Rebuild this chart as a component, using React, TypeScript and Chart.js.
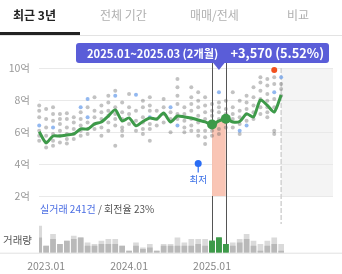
import React, { useEffect, useRef } from "react";
import { Chart, registerables } from "chart.js";
Chart.register(...registerables);

const FONT = '"Noto Sans CJK KR", "Noto Sans", sans-serif';

const tabs = ["최근 3년", "전체 기간", "매매/전세", "비교"];
const tabLeft = [13, 100, 190, 287];

const months = [
  "2022.12", "2023.01", "2023.02", "2023.03", "2023.04", "2023.05", "2023.06", "2023.07", "2023.08", "2023.09", "2023.10", "2023.11",
  "2023.12", "2024.01", "2024.02", "2024.03", "2024.04", "2024.05", "2024.06", "2024.07", "2024.08", "2024.09", "2024.10", "2024.11",
  "2024.12", "2025.01", "2025.02", "2025.03", "2025.04", "2025.05", "2025.06", "2025.07", "2025.08", "2025.09", "2025.10", "2025.11",
];

// average price (억)
const avgPrice = [
  6.02, 5.33, 5.75, 5.75, 5.81, 5.88, 6.19, 6.19, 6.5, 6.63, 7.0, 7.38,
  6.69, 6.88, 6.39, 6.66, 6.88, 6.81, 7.19, 6.63, 7.0, 6.94, 6.88, 6.75,
  6.63, 6.47, 6.69, 6.83, 6.63, 6.66, 7.13, 6.94, 8.0, 7.66, 7.25, 8.31,
];

// individual deals (억), per month
const grayDeals = [
  [7.65, 7.33, 6.92, 6.08, 5.77, 5.46],
  [7.44, 6.81, 6.29, 5.77, 5.35, 5.04],
  [7.54, 7.13, 6.71, 5.88, 5.46, 5.15],
  [7.13, 6.81, 6.5, 6.08, 5.77, 5.35],
  [7.17, 6.81, 6.29, 5.88, 5.56, 5.29],
  [6.92, 6.6, 6.19, 5.88, 5.56],
  [7.23, 6.81, 6.4, 6.08, 5.77],
  [7.54, 6.6, 6.19, 5.88],
  [8.17, 7.33, 6.92, 6.5, 6.19],
  [7.65, 7.23, 6.81, 6.29, 5.77],
  [8.27, 7.85, 7.33, 7.02, 6.6, 6.08],
  [8.58, 7.54, 7.13, 6.81, 6.4, 5.15],
  [7.85, 7.23, 6.81, 6.29, 6.08, 5.77],
  [8.38, 7.54, 7.13, 6.5],
  [7.33, 6.71, 6.08],
  [7.96, 7.54, 6.92, 6.6, 6.19, 5.88],
  [8.17, 7.65, 7.33, 6.5, 6.19, 5.46],
  [7.33, 6.81, 6.4],
  [8.06, 7.54, 7.13, 6.6],
  [7.23, 6.81, 5.98],
  [9.31, 8.79, 8.27, 7.75, 7.13, 6.81],
  [7.54, 7.13, 6.71, 6.29, 5.98],
  [8.79, 8.17, 7.75, 7.33, 6.81, 6.4, 6.08],
  [8.48, 7.96, 7.54, 7.02, 6.6, 6.08, 5.77],
  [8.17, 7.65, 7.23, 6.81, 6.08, 5.67, 5.25],
  [7.75, 7.33, 7.02, 6.08, 5.77],
  [7.85, 7.54, 7.23, 6.81, 6.19, 5.88],
  [7.96, 7.44, 7.13, 6.6, 6.29],
  [8.48, 7.54, 7.13, 6.81, 6.29],
  [7.96, 7.33, 6.92, 6.5, 5.88],
  [8.27, 7.85, 7.44, 7.13, 6.71],
  [8.79, 8.17, 7.65, 7.23, 6.81],
  [9.42, 9.1, 8.58, 8.06, 7.54, 7.13],
  [9.31, 8.9, 8.38, 7.96, 7.54, 7.23, 6.92],
  [9.42, 9.0, 8.06, 7.54, 6.08, 5.88],
  [9.0, 8.69, 8.27],
];
const blueMonth = [0, 2, 6, 7, 7, 11, 14, 16, 19, 20, 26, 29, 30, 34, 35];
const blueValue = [6.4, 6.29, 7.54, 8.06, 6.92, 8.27, 8.33, 6.92, 7.54, 6.4, 8.48, 6.08, 6.4, 8.48, 9.42];

const highMonth = 34;
const highValue = 9.88;
const lowMonth = 23;
const lowValue = 4.04;
const lowLabel = "최저";

// monthly deal counts
const volTotal = [16, 4, 11, 5, 7, 10, 9, 6, 5, 7, 8, 8, 4, 1, 6, 3, 5, 1, 5, 5, 9, 6, 8, 8, 8, 7, 9, 5, 6, 8, 11, 7, 5, 7, 9, 5];
const volDark = [9, 4, 8, 5, 7, 8, 9, 4, 4, 5, 5, 5, 4, 1, 4, 2, 3, 1, 4, 4, 4, 4, 4, 5, 4, 7, 9, 5, 4, 6, 8, 4, 1, 4, 5, 1];

const selStart = 25;
const selEnd = 27;
const rangeText = "2025.01~2025.03 (2개월)";
const changeText = "+3,570 (5.52%)";

const yTicks = [2, 4, 6, 8, 10];
const xTickIdx = [1, 13, 25];
const xTickLabels = ["2023.01", "2024.01", "2025.01"];

const summaryBlue = "실거래 241건";
const summaryRest = " / 회전율 23%";
const volLabel = "거래량";

const GREEN = "#3d9a49";

export default function App() {
  const ref = useRef<HTMLCanvasElement | null>(null);

  useEffect(() => {
    document.body.style.margin = "0";
    const canvas = ref.current!;
    const lastIdx = months.length - 1;

    const overlay = {
      id: "overlay",
      beforeDraw(chart: any) {
        const { ctx, chartArea, scales } = chart;
        const x = scales.x, y = scales.y;
        const xl = x.getPixelForValue(lastIdx);
        ctx.save();
        ctx.fillStyle = "#f4f4f4";
        ctx.fillRect(xl, y.getPixelForValue(10), chartArea.right - xl, y.getPixelForValue(2) - y.getPixelForValue(10));
        ctx.restore();
      },
      beforeDatasetsDraw(chart: any) {
        const { ctx, chartArea, scales } = chart;
        const x = scales.x, y = scales.y;
        ctx.save();
        const xl = x.getPixelForValue(lastIdx);
        ctx.strokeStyle = "#d2d2d2";
        ctx.lineWidth = 1.5;
        ctx.setLineDash([5, 2]);
        ctx.beginPath();
        ctx.moveTo(xl, y.getPixelForValue(10));
        ctx.lineTo(xl, 224);
        ctx.stroke();
        ctx.setLineDash([]);
        ctx.strokeStyle = "#555";
        ctx.lineWidth = 1;
        [selStart, selEnd].forEach((i) => {
          const px = Math.round(x.getPixelForValue(i)) + 0.5;
          ctx.beginPath();
          ctx.moveTo(px, 63);
          ctx.lineTo(px, chartArea.bottom);
          ctx.stroke();
        });
        ctx.restore();
      },
      afterDatasetsDraw(chart: any) {
        const { ctx, chartArea, scales } = chart;
        const x = scales.x, y = scales.y;
        ctx.save();
        ctx.fillStyle = "#e2e2e2";
        ctx.fillRect(0, chartArea.bottom, chart.width, 1);
        const lx = x.getPixelForValue(lowMonth);
        const ly = y.getPixelForValue(lowValue);
        ctx.strokeStyle = "#2a6df4";
        ctx.lineWidth = 1.2;
        ctx.beginPath();
        ctx.moveTo(lx, ly);
        ctx.lineTo(lx, ly + 9);
        ctx.stroke();
        ctx.fillStyle = "#2a6df4";
        ctx.beginPath();
        ctx.arc(lx, ly, 3.5, 0, Math.PI * 2);
        ctx.fill();
        ctx.fillStyle = "#3a6fe6";
        ctx.font = `9.5px ${FONT}`;
        ctx.textAlign = "center";
        ctx.textBaseline = "middle";
        ctx.fillText(lowLabel, lx, ly + 16);
        ctx.textAlign = "left";
        ctx.font = `10px ${FONT}`;
        ctx.fillStyle = "#4a6de3";
        ctx.fillText(summaryBlue, 40, 209.5);
        const w = ctx.measureText(summaryBlue).width;
        ctx.fillStyle = "#555";
        ctx.fillText(summaryRest, 40 + w, 209.5);
        ctx.font = `10.5px ${FONT}`;
        ctx.fillText(volLabel, 3, 240);
        ctx.restore();
      },
      afterDraw(chart: any) {
        const { ctx, scales } = chart;
        const x = scales.x;
        const cx = (x.getPixelForValue(selStart) + x.getPixelForValue(selEnd)) / 2;
        ctx.save();
        ctx.fillStyle = "#5a5dd8";
        ctx.beginPath();
        (ctx as any).roundRect(76, 43, 253, 20, 3);
        ctx.fill();
        ctx.beginPath();
        ctx.moveTo(cx - 6, 62.5);
        ctx.lineTo(cx + 6, 62.5);
        ctx.lineTo(cx, 70);
        ctx.closePath();
        ctx.fill();
        ctx.fillStyle = "#fff";
        ctx.font = `bold 11.2px ${FONT}`;
        ctx.textBaseline = "middle";
        ctx.textAlign = "left";
        ctx.fillText(rangeText, 87, 53.5);
        ctx.textAlign = "right";
        ctx.font = `bold 12.8px ${FONT}`;
        ctx.fillText(changeText, 324, 53.5);
        ctx.restore();
      },
    };

    const idx = months.map((_, i) => i);
    const barColor = (base: string) => idx.map((i) => (i >= selStart && i <= selEnd ? GREEN : base));

    const grayPts: { x: number; y: number }[] = [];
    grayDeals.forEach((arr, i) => arr.forEach((v) => grayPts.push({ x: i, y: v })));
    const bluePts = blueMonth.map((m, k) => ({ x: m, y: blueValue[k] }));

    const chart = new Chart(canvas, {
      type: "bar",
      data: {
        datasets: [
          {
            type: "bar",
            data: volTotal.map((v, i) => ({ x: i, y: v })) as any,
            yAxisID: "yv",
            backgroundColor: barColor("#dadada"),
            barThickness: 5,
            grouped: false,
            order: 10,
          } as any,
          {
            type: "bar",
            data: volDark.map((v, i) => ({ x: i, y: v })) as any,
            yAxisID: "yv",
            backgroundColor: barColor("#b9b9b9"),
            barThickness: 5,
            grouped: false,
            order: 9,
          } as any,
          {
            type: "line",
            data: avgPrice.map((v, i) => ({ x: i, y: i >= selStart && i <= selEnd ? v : null })) as any,
            yAxisID: "y",
            borderWidth: 0,
            pointRadius: 0,
            backgroundColor: "#f9c5b5",
            fill: { value: 2 },
            tension: 0.25,
            spanGaps: false,
            order: 8,
          } as any,
          {
            type: "line",
            data: grayPts as any,
            yAxisID: "y",
            showLine: false,
            pointRadius: 2,
            pointBorderWidth: 0,
            pointBackgroundColor: "rgba(95,95,95,0.38)",
            clip: false,
            order: 7,
          } as any,
          {
            type: "line",
            data: bluePts as any,
            yAxisID: "y",
            showLine: false,
            pointRadius: 2,
            pointBorderWidth: 0,
            pointBackgroundColor: "rgba(110,160,235,0.75)",
            clip: false,
            order: 6,
          } as any,
          {
            type: "line",
            data: [{ x: highMonth, y: highValue }] as any,
            yAxisID: "y",
            showLine: false,
            pointRadius: 3,
            pointBorderWidth: 0,
            pointBackgroundColor: "#f2501e",
            clip: false,
            order: 6,
          } as any,
          {
            type: "line",
            data: avgPrice.map((v, i) => ({ x: i, y: v })) as any,
            yAxisID: "y",
            borderColor: GREEN,
            borderWidth: 3,
            pointRadius: 0,
            tension: 0.25,
            fill: false,
            clip: false,
            borderJoinStyle: "round",
            order: 5,
          } as any,
          {
            type: "line",
            data: [selStart, selEnd].map((i) => ({ x: i, y: avgPrice[i] })) as any,
            yAxisID: "y",
            showLine: false,
            pointRadius: 5,
            pointBorderWidth: 0,
            pointBackgroundColor: GREEN,
            clip: false,
            order: 4,
          } as any,
        ],
      },
      options: {
        animation: false,
        responsive: false,
        events: [],
        layout: { padding: { top: 68, right: 9, left: 0, bottom: 0 } },
        plugins: { legend: { display: false }, tooltip: { enabled: false } },
        scales: {
          x: {
            type: "linear",
            min: -0.03,
            max: 42.5,
            offset: false,
            grid: { display: false, drawTicks: false },
            border: { display: false },
            afterBuildTicks: (a: any) => {
              a.ticks = xTickIdx.map((v) => ({ value: v }));
            },
            afterFit: (a: any) => {
              a.height = 21.3;
            },
            ticks: {
              autoSkip: false,
              maxRotation: 0,
              padding: 7,
              color: "#888",
              font: { size: 10.5, family: FONT },
              callback: (v: any) => xTickLabels[xTickIdx.indexOf(v)] ?? "",
            },
          },
          y: {
            type: "linear",
            min: -1.54,
            max: 10,
            position: "left",
            grid: { color: "#e9e9e9", drawTicks: false },
            border: { display: false },
            afterBuildTicks: (a: any) => {
              a.ticks = yTicks.map((v) => ({ value: v }));
            },
            afterFit: (a: any) => {
              a.width = 39;
            },
            ticks: {
              padding: 9,
              color: "#999",
              font: { size: 10.5, family: FONT },
              callback: (v: any) => `${v}억`,
            },
          },
          yv: { type: "linear", min: 0, max: 111.3, display: false },
        },
      } as any,
      plugins: [overlay],
    });
    return () => chart.destroy();
  }, []);

  return (
    <div style={{ position: "relative", width: 342, height: 274, background: "#fff", overflow: "hidden" }}>
      <canvas ref={ref} width={342} height={274} style={{ position: "absolute", left: 0, top: 0, width: 342, height: 274 }} />
      <div style={{ position: "absolute", left: 0, top: 35, width: 342, height: 1, background: "#e3e3e3" }} />
      <div style={{ position: "absolute", left: 0, top: 32, width: 80, height: 2.5, background: "#222" }} />
      {tabs.map((t, i) => (
        <div
          key={t}
          style={{
            position: "absolute",
            left: tabLeft[i],
            top: 6,
            height: 18,
            lineHeight: "18px",
            fontFamily: FONT,
            fontSize: 12,
            fontWeight: i === 0 ? 700 : 400,
            color: i === 0 ? "#222" : "#b0b0b0",
            whiteSpace: "nowrap",
          }}
        >
          {t}
        </div>
      ))}
    </div>
  );
}
